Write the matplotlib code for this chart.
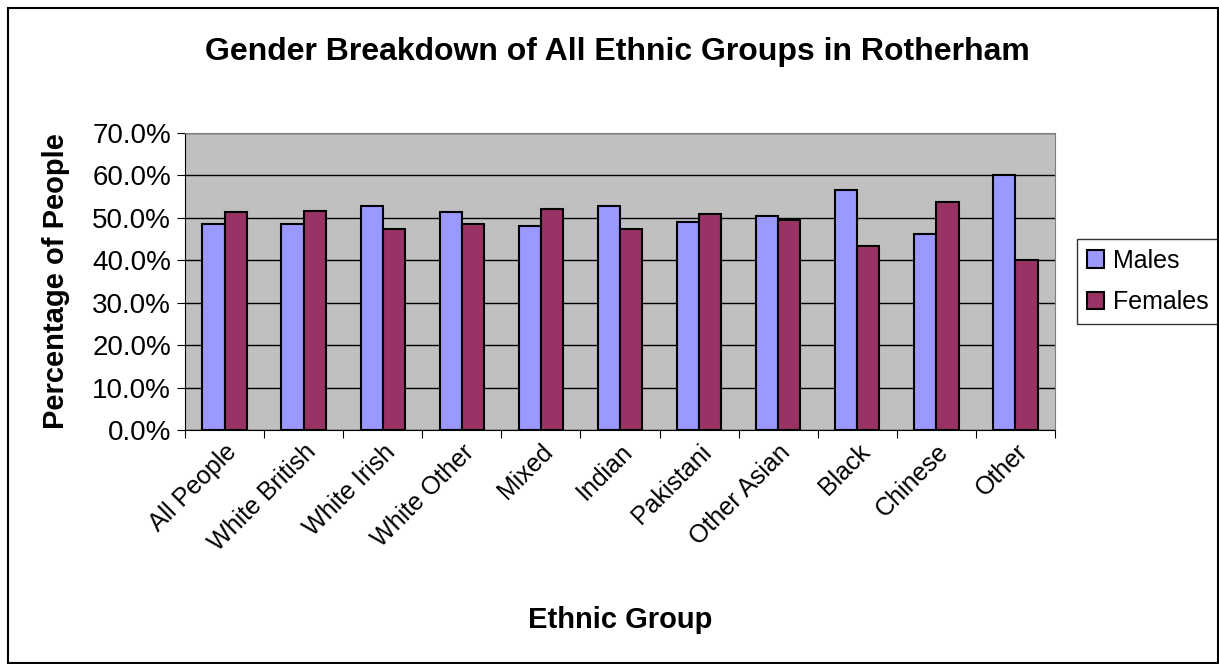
import numpy as np
import matplotlib
matplotlib.use("Agg")
import matplotlib.pyplot as plt
from matplotlib.patches import Rectangle
from matplotlib.ticker import PercentFormatter, MultipleLocator

plt.rcParams['font.family'] = ['Liberation Sans', 'DejaVu Sans']

# data
groups = ['All People', 'White British', 'White Irish', 'White Other', 'Mixed',
          'Indian', 'Pakistani', 'Other Asian', 'Black', 'Chinese', 'Other']
males = [48.6, 48.5, 52.7, 51.4, 48.0, 52.7, 49.0, 50.5, 56.6, 46.2, 60.0]
females = [51.4, 51.5, 47.3, 48.6, 52.0, 47.3, 51.0, 49.5, 43.4, 53.8, 40.0]

fig = plt.figure(figsize=(12.19, 6.64), dpi=100)
ax = fig.add_axes([185 / 1219, 1 - 430 / 664, 870 / 1219, 297 / 664])

x = np.arange(len(groups))
w = 0.28
ax.bar(x - w / 2, males, w, color='#9999FF', edgecolor='black', linewidth=1.5,
       label='Males', zorder=3)
ax.bar(x + w / 2, females, w, color='#993366', edgecolor='black', linewidth=1.5,
       label='Females', zorder=3)

ax.set_facecolor('#C0C0C0')
ax.set_xlim(-0.5, len(groups) - 0.5)
ax.set_ylim(0, 70)
ax.yaxis.set_major_locator(MultipleLocator(10))
ax.yaxis.set_major_formatter(PercentFormatter(decimals=1))
ax.grid(axis='y', color='black', linewidth=1, zorder=1)
ax.set_axisbelow(True)

# category ticks between groups, labels at centers
ax.set_xticks(np.arange(len(groups) + 1) - 0.5)
ax.set_xticklabels([])
ax.set_xticks(x, minor=True)
ax.set_xticklabels(groups, minor=True, rotation=45, ha='right',
                   rotation_mode='anchor', fontsize=18)
ax.tick_params(axis='x', which='minor', length=0, pad=7)
ax.tick_params(axis='x', which='major', direction='out', length=6, color='black')
ax.tick_params(axis='y', direction='out', length=6, labelsize=20, pad=4)

for s in ['top', 'right']:
    ax.spines[s].set_color('#808080')
for s in ['left', 'bottom']:
    ax.spines[s].set_color('black')

ax.set_ylabel('Percentage of People', fontsize=21, fontweight='bold', labelpad=16)
ax.set_xlabel('Ethnic Group', fontsize=21, fontweight='bold', labelpad=36)
fig.text(617 / 1219, 1 - 52 / 664, 'Gender Breakdown of All Ethnic Groups in Rotherham',
         ha='center', va='center', fontsize=23, fontweight='bold')

leg = ax.legend(loc='center left', bbox_to_anchor=(1.025, 0.5), fontsize=18,
                frameon=True, fancybox=False, edgecolor='black',
                handlelength=0.7, handleheight=0.7, handletextpad=0.35,
                labelspacing=0.7, borderpad=0.4, borderaxespad=0)
leg.get_frame().set_linewidth(1)

fig.patches.append(Rectangle((8 / 1219, 0.002), 1 - 9 / 1219, 1 - 9 / 664,
                             transform=fig.transFigure, fill=False,
                             edgecolor='black', linewidth=1.5))

fig.savefig('out.png', dpi=100)
